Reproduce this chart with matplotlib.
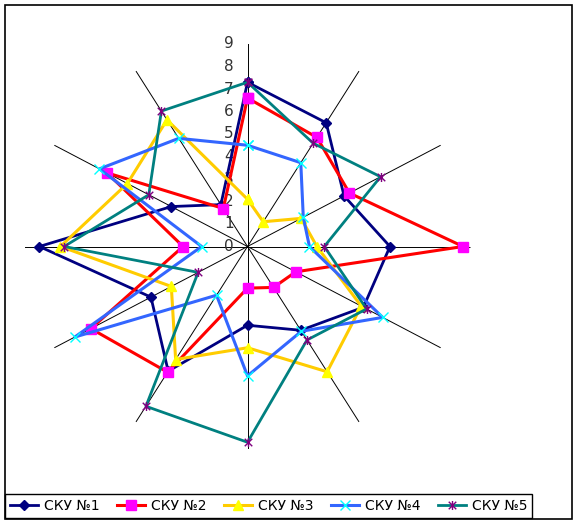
import numpy as np
import matplotlib
matplotlib.use("Agg")
import matplotlib.pyplot as plt
from matplotlib.path import Path
from matplotlib.patches import Rectangle

# 12 categories (clockwise from top)
angles_deg = [0, 30, 60, 90, 120, 150, 180, 210, 240, 270, 300, 330]
series_names = ["СКУ №1", "СКУ №2", "СКУ №3", "СКУ №4", "СКУ №5"]
s1 = [7.3, 6.35, 4.5, 5.75, 5.4, 4.3, 3.5, 6.4, 4.5, 8.4, 3.55, 2.15]
s2 = [6.6, 5.6, 4.75, 8.7, 2.25, 2.1, 1.85, 6.45, 7.3, 2.6, 6.55, 1.95]
s3 = [2.1, 1.27, 2.5, 2.8, 5.3, 6.43, 4.5, 5.8, 3.55, 7.55, 5.6, 6.5]
s4 = [4.5, 4.3, 2.6, 2.5, 6.3, 4.35, 5.75, 2.5, 8.05, 1.85, 6.9, 5.55]
s5 = [7.3, 5.3, 6.2, 3.1, 5.55, 4.8, 8.7, 8.2, 2.3, 7.4, 4.6, 6.95]
r_ticks = [0, 1, 2, 3, 4, 5, 6, 7, 8, 9]

star = Path([(-1, -1), (1, 1), (-1, 1), (1, -1), (0, -1.2), (0, 1.2)],
            [Path.MOVETO, Path.LINETO, Path.MOVETO, Path.LINETO, Path.MOVETO, Path.LINETO])

styles = [
    dict(color="#000080", lw=2.0, marker="D", ms=5.5, mfc="#000080", mec="#000080"),
    dict(color="#FF0000", lw=2.2, marker="s", ms=6.5, mfc="#FF00FF", mec="#FF00FF"),
    dict(color="#FFCC00", lw=2.2, marker="^", ms=7.5, mfc="#FFFF00", mec="#FFFF00"),
    dict(color="#3366FF", lw=2.2, marker="x", ms=7, mfc="none", mec="#00FFFF", mew=1.0),
    dict(color="#008080", lw=2.0, marker=star, ms=6.5, mfc="none", mec="#800080", mew=1.0),
]

fig = plt.figure(figsize=(5.79, 5.24), dpi=100)
fig.patch.set_facecolor("white")

ax = fig.add_axes([24.5 / 579, 1 - 449 / 524, 446 / 579, 405 / 524], projection="polar")
ax.set_aspect("auto")
ax.set_theta_zero_location("N")
ax.set_theta_direction(-1)
ax.set_ylim(0, 9)
ax.set_facecolor("white")
ax.spines["polar"].set_visible(False)

theta = np.deg2rad(angles_deg + [angles_deg[0]])
for name, vals, st in zip(series_names, [s1, s2, s3, s4, s5], styles):
    ax.plot(theta, vals + [vals[0]], label=name, clip_on=False, zorder=3, **st)

ax.set_thetagrids(angles_deg, labels=[""] * len(angles_deg))
ax.set_rgrids(r_ticks[1:], labels=[""] * (len(r_ticks) - 1))
ax.yaxis.grid(False)
ax.xaxis.grid(True, color="black", lw=0.7)
ax.tick_params(axis="both", length=0)

for v in r_ticks:
    ax.annotate(str(v), xy=(0, v), xytext=(-10, 0), textcoords="offset points",
                ha="right", va="center", fontsize=11, color="#333333",
                annotation_clip=False, zorder=2)

# outer chart frame
fig.add_artist(Rectangle((5.3 / 579, 1 - 519 / 524), (572.3 - 5.3) / 579, (519 - 5) / 524,
                         transform=fig.transFigure, fill=False, edgecolor="black", lw=1.2))

leg = fig.legend(loc="lower left", bbox_to_anchor=(5.3 / 579, 1 - 517.7 / 524),
                 ncol=5, fontsize=10, handlelength=2.0, handletextpad=0.45,
                 columnspacing=1.25, borderpad=0.35, borderaxespad=0,
                 fancybox=False, framealpha=1, edgecolor="black")
leg.get_frame().set_linewidth(1.0)

fig.savefig("out.png", dpi=100, facecolor="white")
